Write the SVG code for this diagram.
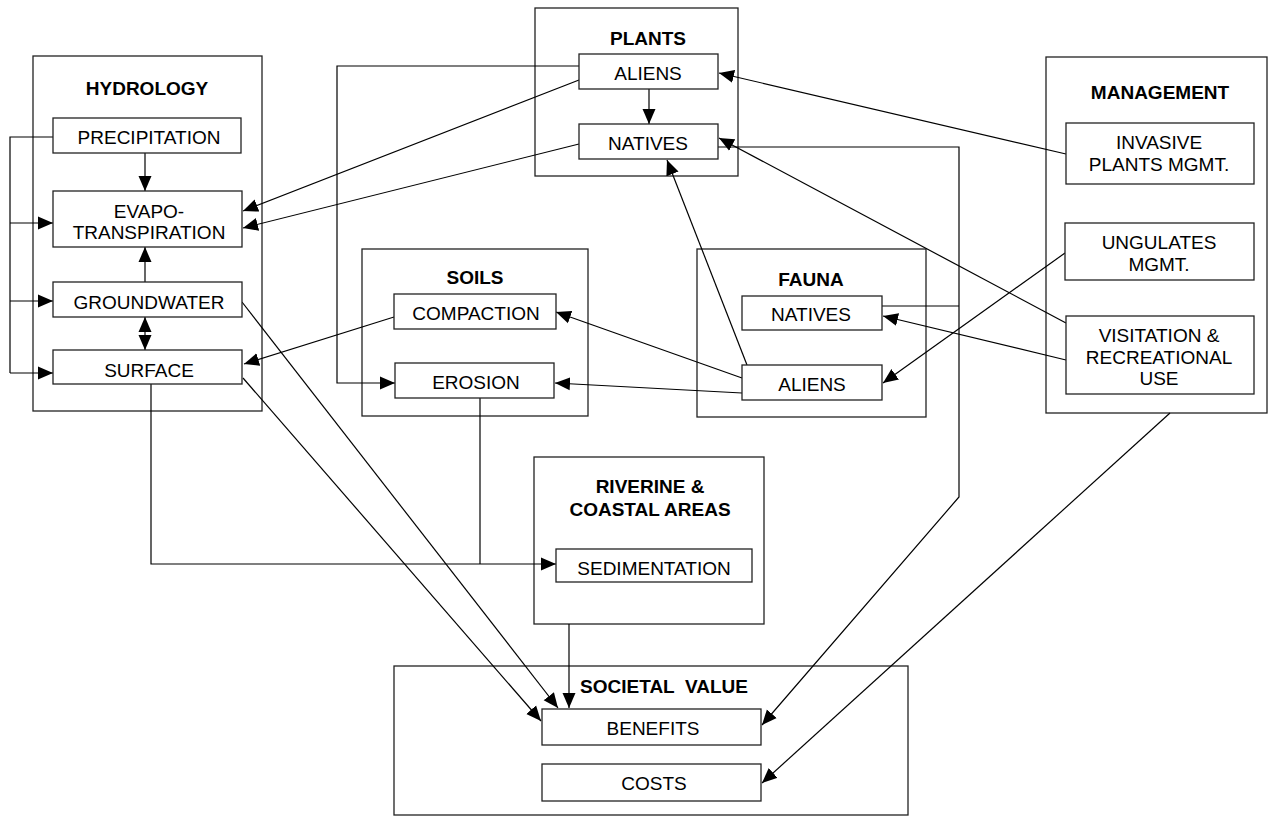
<svg xmlns="http://www.w3.org/2000/svg" width="1271" height="816" viewBox="0 0 1271 816">
<style>
.grp{fill:none;stroke:#222;stroke-width:1.3}
.box{fill:#fff;stroke:#222;stroke-width:1.3}
.t{font-family:"Liberation Sans",Arial,sans-serif;font-size:19px;fill:#000;text-anchor:middle}
.h{font-family:"Liberation Sans",Arial,sans-serif;font-size:19px;font-weight:bold;fill:#000;text-anchor:middle}
.c{fill:none;stroke:#000;stroke-width:1.2}
.a{marker-end:url(#ah)}
</style>
<defs>
<marker id="ah" markerUnits="userSpaceOnUse" markerWidth="15" markerHeight="14" viewBox="0 0 15 14" refX="15" refY="7" orient="auto-start-reverse">
<path d="M0,0.5 L15,7 L0,13.5 z" fill="#000"/>
</marker>
</defs>
<rect width="1271" height="816" fill="#fff"/>

<g id="hydrology">
<rect class="grp" x="33" y="56" width="229" height="355"/>
<text class="h" x="147" y="95">HYDROLOGY</text>
</g>
<g id="plants">
<rect class="grp" x="535" y="8" width="203" height="168"/>
<text class="h" x="648" y="45">PLANTS</text>
</g>
<g id="management">
<rect class="grp" x="1046" y="57" width="221" height="356"/>
<text class="h" x="1160" y="99">MANAGEMENT</text>
</g>
<g id="soils">
<rect class="grp" x="362" y="249" width="226" height="167"/>
<text class="h" x="475" y="284">SOILS</text>
</g>
<g id="fauna">
<rect class="grp" x="697" y="249" width="229" height="168"/>
<text class="h" x="811" y="286">FAUNA</text>
</g>
<g id="riverine">
<rect class="grp" x="534" y="457" width="230" height="167"/>
<text class="h" x="650" y="493">RIVERINE &amp;</text>
<text class="h" x="650" y="516">COASTAL AREAS</text>
</g>
<g id="societal">
<rect class="grp" x="394" y="666" width="514" height="149"/>
<text class="h" x="664" y="693" xml:space="preserve">SOCIETAL  VALUE</text>
</g>

<g id="connectors">
<path class="c" d="M53,137 H10 V373"/>
<path class="c a" d="M10,223 H53"/>
<path class="c a" d="M10,301 H53"/>
<path class="c a" d="M10,373 H53"/>
<path class="c a" d="M145,153 V191"/>
<path class="c a" d="M145,282 V247"/>
<path class="c a" d="M145,333 V317" />
<path class="c a" d="M145,333 V350" />
<path class="c a" d="M649,89 V124"/>
<path class="c a" d="M579,66 H337 V383 H395"/>
<path class="c a" d="M579,80 L243,211"/>
<path class="c a" d="M579,144 L243,228"/>
<path class="c a" d="M1066,154 L719,73"/>
<path class="c a" d="M1066,323 L719,138"/>
<path class="c a" d="M718,147 H959 V497 L762,725"/>
<path class="c" d="M882,306 H959"/>
<path class="c a" d="M1066,360 L883,316"/>
<path class="c a" d="M1065,253 L883,383"/>
<path class="c a" d="M747,365 L667,160"/>
<path class="c a" d="M742,378 L556,312"/>
<path class="c a" d="M742,393 L555,383"/>
<path class="c a" d="M394,317 L244,364"/>
<path class="c" d="M480,398 V564"/>
<path class="c a" d="M151,384 V564 H556"/>
<path class="c a" d="M569,624 V708"/>
<path class="c a" d="M242,302 L558,708"/>
<path class="c a" d="M243,378 L541,721"/>
<path class="c a" d="M1170,413 L762,783"/>
</g>

<g id="precipitation">
<rect class="box" x="53" y="118" width="188" height="35"/>
<text class="t" x="149" y="144">PRECIPITATION</text>
</g>
<g id="evapotranspiration">
<rect class="box" x="53" y="191" width="189" height="56"/>
<text class="t" x="149" y="218">EVAPO-</text>
<text class="t" x="149" y="239">TRANSPIRATION</text>
</g>
<g id="groundwater">
<rect class="box" x="53" y="282" width="189" height="35"/>
<text class="t" x="149" y="309">GROUNDWATER</text>
</g>
<g id="surface">
<rect class="box" x="53" y="350" width="189" height="34"/>
<text class="t" x="149" y="377">SURFACE</text>
</g>
<g id="plant-aliens">
<rect class="box" x="579" y="54" width="139" height="35"/>
<text class="t" x="648" y="80">ALIENS</text>
</g>
<g id="plant-natives">
<rect class="box" x="579" y="124" width="139" height="35"/>
<text class="t" x="648" y="150">NATIVES</text>
</g>
<g id="invasive-mgmt">
<rect class="box" x="1066" y="123" width="188" height="61"/>
<text class="t" x="1159" y="149">INVASIVE</text>
<text class="t" x="1159" y="171">PLANTS MGMT.</text>
</g>
<g id="ungulates-mgmt">
<rect class="box" x="1065" y="223" width="189" height="57"/>
<text class="t" x="1159" y="249">UNGULATES</text>
<text class="t" x="1159" y="271">MGMT.</text>
</g>
<g id="visitation">
<rect class="box" x="1066" y="316" width="188" height="78"/>
<text class="t" x="1159" y="342">VISITATION &amp;</text>
<text class="t" x="1159" y="364">RECREATIONAL</text>
<text class="t" x="1159" y="385">USE</text>
</g>
<g id="compaction">
<rect class="box" x="394" y="294" width="162" height="35"/>
<text class="t" x="476" y="320">COMPACTION</text>
</g>
<g id="erosion">
<rect class="box" x="395" y="363" width="159" height="35"/>
<text class="t" x="476" y="389">EROSION</text>
</g>
<g id="fauna-natives">
<rect class="box" x="742" y="296" width="140" height="34"/>
<text class="t" x="811" y="321">NATIVES</text>
</g>
<g id="fauna-aliens">
<rect class="box" x="742" y="365" width="140" height="35"/>
<text class="t" x="812" y="391">ALIENS</text>
</g>
<g id="sedimentation">
<rect class="box" x="556" y="549" width="196" height="33"/>
<text class="t" x="654" y="575">SEDIMENTATION</text>
</g>
<g id="benefits">
<rect class="box" x="542" y="709" width="219" height="36"/>
<text class="t" x="653" y="735">BENEFITS</text>
</g>
<g id="costs">
<rect class="box" x="542" y="764" width="219" height="37"/>
<text class="t" x="654" y="790">COSTS</text>
</g>
</svg>
